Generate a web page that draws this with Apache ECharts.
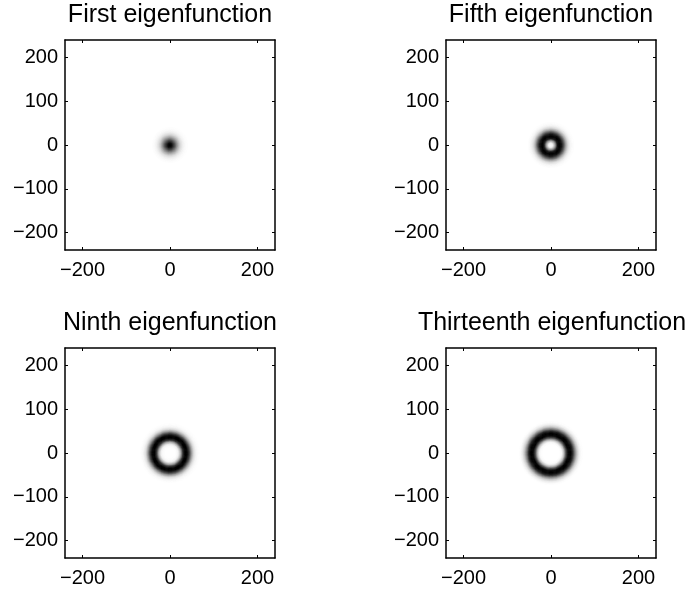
<!DOCTYPE html>
<html>
<head>
<meta charset="utf-8">
<script src="https://cdn.jsdelivr.net/npm/echarts@6/dist/echarts.min.js"></script>
<style>html,body{margin:0;padding:0;background:#fff;}#c{width:689px;height:591px;}</style>
</head>
<body>
<div id="c"></div>
<script>
// Panel titles
const titles = ['First eigenfunction', 'Fifth eigenfunction', 'Ninth eigenfunction', 'Thirteenth eigenfunction'];
// Tick labels
const xTicks = [-200, 0, 200];
const yTicks = [-200, -100, 0, 100, 200];
const axisMin = -240, axisMax = 240;
// Radial profiles (radius in axis units -> darkness 0..1)
const radius        = [0,   5,    10,   15,   20,   25,   30,   35,   40,   45,   50,   55,   60,   65,   70,   75,   80];
const firstProfile  = [1,   0.94, 0.75, 0.5,  0.29, 0.14, 0.06, 0.02, 0.005, 0,   0,    0,    0,    0,    0,    0,    0];
const fifthProfile  = [0,   0.06, 0.4,  0.9,  1,    0.93, 0.65, 0.33, 0.13, 0.04, 0.01, 0,    0,    0,    0,    0,    0];
const ninthProfile  = [0,   0,    0,    0.01, 0.06, 0.32, 0.8,  1,    1,    0.74, 0.38, 0.14, 0.04, 0.01, 0,    0,    0];
const thirteenthProfile = [0, 0,  0,    0,    0,    0.03, 0.25, 0.7,  1,    1,    0.86, 0.52, 0.22, 0.07, 0.01, 0,    0];
const profiles = [firstProfile, fifthProfile, ninthProfile, thirteenthProfile];

const cellSize = 2;
const nCells = (axisMax - axisMin) / cellSize;
const cellCenters = [];
for (let i = 0; i < nCells; i++) cellCenters.push(axisMin + cellSize / 2 + i * cellSize);

function lookup(profile, r) {
  if (r >= radius[radius.length - 1]) return 0;
  for (let k = 0; k < radius.length - 1; k++) {
    if (r >= radius[k] && r <= radius[k + 1]) {
      const t = (r - radius[k]) / (radius[k + 1] - radius[k]);
      return profile[k] + t * (profile[k + 1] - profile[k]);
    }
  }
  return 0;
}
function buildCells(profile) {
  const out = [];
  for (let ix = 0; ix < nCells; ix++) {
    for (let iy = 0; iy < nCells; iy++) {
      const x = cellCenters[ix], y = cellCenters[iy];
      const v = lookup(profile, Math.sqrt(x * x + y * y));
      if (v > 0.004) out.push([ix, iy, v]);
    }
  }
  return out;
}

const font = "'Liberation Sans', Arial, Helvetica, sans-serif";
const grids = [
  {left: 65, top: 40, width: 210, height: 210, cx: 170},
  {left: 446, top: 40, width: 210, height: 210, cx: 551},
  {left: 65, top: 348, width: 210, height: 210, cx: 170},
  {left: 446, top: 348, width: 210, height: 210, cx: 552}
];
const titleTops = [3, 3, 311, 311];
const fmt = v => v < 0 ? '\u2212' + Math.abs(v) : String(v);

const option = {
  animation: false,
  backgroundColor: '#ffffff',
  title: grids.map((g, i) => ({
    text: titles[i], left: g.cx, top: titleTops[i], textAlign: 'center', padding: 0,
    textStyle: {fontFamily: font, fontSize: 25, fontWeight: 'normal', color: '#000'}
  })),
  grid: grids.map(g => ({left: g.left, top: g.top, width: g.width, height: g.height, show: false})),
  visualMap: {type: 'continuous', min: 0, max: 1, show: false, inRange: {color: ['#ffffff', '#000000']}},
  xAxis: [], yAxis: [], series: []
};

const lineStyle = {color: '#000', width: 1.5};
grids.forEach((g, i) => {
  option.xAxis.push({type: 'category', gridIndex: i, data: cellCenters, show: false, boundaryGap: true});
  option.xAxis.push({type: 'value', gridIndex: i, position: 'bottom', min: axisMin, max: axisMax,
    axisLine: {show: true, onZero: false, lineStyle},
    axisTick: {show: true, inside: true, length: 3, customValues: xTicks, lineStyle: {color: '#000'}},
    axisLabel: {show: true, customValues: xTicks, formatter: fmt, margin: 10, fontFamily: font, fontSize: 20, color: '#000'},
    splitLine: {show: false}});
  option.xAxis.push({type: 'value', gridIndex: i, position: 'top', min: axisMin, max: axisMax,
    axisLine: {show: true, onZero: false, lineStyle},
    axisTick: {show: true, inside: true, length: 3, customValues: xTicks, lineStyle: {color: '#000'}},
    axisLabel: {show: false}, splitLine: {show: false}});
  option.yAxis.push({type: 'category', gridIndex: i, data: cellCenters, show: false, boundaryGap: true});
  option.yAxis.push({type: 'value', gridIndex: i, position: 'left', min: axisMin, max: axisMax,
    axisLine: {show: true, onZero: false, lineStyle},
    axisTick: {show: true, inside: true, length: 3, customValues: yTicks, lineStyle: {color: '#000'}},
    axisLabel: {show: true, customValues: yTicks, formatter: fmt, margin: 7, fontFamily: font, fontSize: 20, color: '#000'},
    splitLine: {show: false}});
  option.yAxis.push({type: 'value', gridIndex: i, position: 'right', min: axisMin, max: axisMax,
    axisLine: {show: true, onZero: false, lineStyle},
    axisTick: {show: true, inside: true, length: 3, customValues: yTicks, lineStyle: {color: '#000'}},
    axisLabel: {show: false}, splitLine: {show: false}});
  option.series.push({type: 'heatmap', xAxisIndex: 3 * i, yAxisIndex: 3 * i, data: buildCells(profiles[i]),
    progressive: 0, emphasis: {disabled: true}, z: 1});
});

const chart = echarts.init(document.getElementById('c'), null, {renderer: 'canvas'});
chart.setOption(option);
</script>
</body>
</html>
